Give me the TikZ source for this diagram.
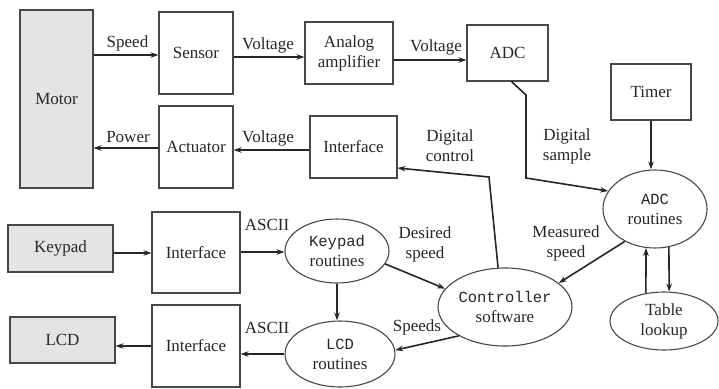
\documentclass[tikz,border=0pt]{standalone}
\usepackage{fontspec}
\setmainfont{LiberationSerif}[Extension=.ttf, UprightFont=*-Regular, BoldFont=*-Bold]
\newfontfamily\monof{Liberation Mono}
\usetikzlibrary{shapes.geometric,arrows.meta}
\definecolor{ink}{HTML}{262626}
\definecolor{boxfill}{HTML}{E4E4E4}
\begin{document}
\begin{tikzpicture}[x=1pt,y=-1pt,
  every node/.style={text=ink, font=\rmfamily\fontsize{17}{20}\selectfont},
  blk/.style={draw=ink!85, line width=1.1pt, inner sep=0pt, align=center},
  gblk/.style={blk, fill=boxfill},
  oval/.style={ellipse, draw=ink!85, line width=1.1pt, inner sep=0pt, align=center},
  arr/.style={draw=ink, line width=1.6pt, -{Stealth[length=8pt,width=5.5pt]}},
  lbl/.style={align=center, inner sep=0pt}]
\newcommand{\mtxt}[1]{{\monof\fontsize{15.5}{20}\selectfont #1}}
\useasboundingbox (0,0) rectangle (719,388);

% blocks
\node[gblk, minimum width=73, minimum height=178] (motor) at (56.5,99) {Motor};
\node[blk, minimum width=74, minimum height=82] (sensor) at (196,53) {Sensor};
\node[blk, minimum width=74, minimum height=82] (actuator) at (196,147) {Actuator};
\node[blk, minimum width=88, minimum height=62] (amp) at (349,53) {Analog\\amplifier};
\node[blk, minimum width=81, minimum height=56] (adc) at (507.5,53) {ADC};
\node[blk, minimum width=80, minimum height=56] (timer) at (651,92) {Timer};
\node[blk, minimum width=87, minimum height=62] (iftop) at (353.5,147) {Interface};
\node[gblk, minimum width=105, minimum height=47] (keypad) at (60.5,248.5) {Keypad};
\node[blk, minimum width=88, minimum height=81] (ifkey) at (196,252.5) {Interface};
\node[gblk, minimum width=105, minimum height=46] (lcd) at (62.5,340) {LCD};
\node[blk, minimum width=88, minimum height=82] (iflcd) at (196,346) {Interface};

% ovals
\node[oval, minimum width=104, minimum height=78] (adcr) at (655,209) {\mtxt{ADC}\\routines};
\node[oval, minimum width=108, minimum height=58] (table) at (664,321) {Table\\lookup};
\node[oval, minimum width=134, minimum height=78] (ctrl) at (505,307) {\mtxt{Controller}\\software};
\node[oval, minimum width=104, minimum height=64] (keyr) at (337,251) {\mtxt{Keypad}\\routines};
\node[oval, minimum width=110, minimum height=66] (lcdr) at (340,354) {\mtxt{LCD}\\routines};

% helper coordinates
\coordinate (s1) at ([yshift=-2pt]sensor.west);
\coordinate (a1) at ([yshift=-1pt]actuator.west);
\coordinate (k1) at ([yshift=-0.5pt]ifkey.west);
\coordinate (k2) at ([yshift=0.5pt]ifkey.east);
\coordinate (c1) at (489,177);
\coordinate (d1) at (526,95);
\coordinate (d2) at (526,178);

% connectors
\draw[arr] (motor.east |- s1) -- (s1);
\draw[arr] ([yshift=-4pt]sensor.east) -- ([yshift=-4pt]amp.west);
\draw[arr] ([yshift=-7pt]amp.east) -- ([yshift=-7pt]adc.west);
\draw[arr] ([yshift=-3pt]iftop.west) -- ([yshift=-3pt]actuator.east);
\draw[arr] (a1) -- (a1 -| motor.east);
\draw[arr] (keypad.east |- k1) -- (k1);
\draw[arr] (k2) -- (k2 -| keyr.west);
\draw[arr] (lcdr.west) -- (lcdr.west -| iflcd.east);
\draw[arr] (iflcd.west) -- (iflcd.west -| lcd.east);
\draw[arr] (keyr.south) -- (keyr.south |- lcdr.north);
\draw[arr] (timer.south) -- (timer.south |- adcr.north);
\draw[arr] (adcr.290) -- (table.80);
\draw[arr] (table.123) -- (adcr.257);
\draw[arr] (adcr.227) -- (ctrl.24);
\draw[arr] (keyr.-15) -- (ctrl.163);
\draw[arr] (ctrl.212) -- (lcdr.4);
\draw[arr] (ctrl.100) -- (c1) -- ([yshift=-21pt]iftop.east);
\draw[arr] ([xshift=4pt]adc.south) -- (d1) -- (d2) -- (adcr.159);

% labels
\node[lbl] (lspeed) at (127.5,43) {Speed};
\node[lbl] (lvolt1) at (268,45) {Voltage};
\node[lbl] (lvolt2) at (436,47) {Voltage};
\node[lbl] (lpower) at (128,137) {Power};
\node[lbl] (lvolt3) at (268,138) {Voltage};
\node[lbl] (ldctl) at (450,146) {Digital\\control};
\node[lbl] (ldsmp) at (567,146) {Digital\\sample};
\node[lbl] (lmeas) at (566,243) {Measured\\speed};
\node[lbl] (ldes) at (425,244) {Desired\\speed};
\node[lbl] (lspeeds) at (417,327) {Speeds};
\node[lbl] (lascii1) at (267,225) {ASCII};
\node[lbl] (lascii2) at (267,328) {ASCII};
\end{tikzpicture}
\end{document}
